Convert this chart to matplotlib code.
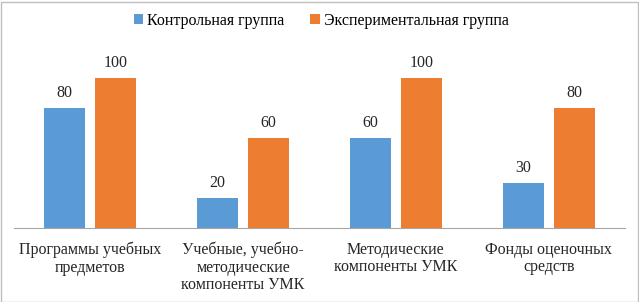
import matplotlib.pyplot as plt
import numpy as np
from matplotlib.patches import Rectangle

# Data
categories = ['Программы учебных\nпредметов',
              'Учебные, учебно-\nметодические\nкомпоненты УМК',
              'Методические\nкомпоненты УМК',
              'Фонды оценочных\nсредств']
control = [80, 20, 60, 30]
experimental = [100, 60, 100, 80]
series_names = ['Контрольная группа', 'Экспериментальная группа']

plt.rcParams['font.family'] = ['Liberation Serif', 'DejaVu Serif']

W, H = 639, 302
fig = plt.figure(figsize=(W / 100, H / 100), dpi=100)
ax = fig.add_axes([14 / W, (H - 228) / H, 611 / W, 180 / H])

x = np.arange(len(categories))
width = 0.268
offset = 0.167
b1 = ax.bar(x - offset, control, width, color='#5b9bd5', label=series_names[0])
b2 = ax.bar(x + offset, experimental, width, color='#ed7d31', label=series_names[1])

for bars in (b1, b2):
    ax.bar_label(bars, padding=5, fontsize=11.5, color='#262626')

ax.set_xlim(-0.5, len(categories) - 0.5)
ax.set_ylim(0, 120)
ax.set_yticks([])
ax.set_xticks(x)
ax.set_xticklabels(categories, fontsize=11.5, color='#262626', linespacing=1.1)
ax.tick_params(axis='x', length=0, pad=10)
for s in ('top', 'right', 'left'):
    ax.spines[s].set_visible(False)
ax.spines['bottom'].set_color('#a6a6a6')

fig.legend(loc='center', bbox_to_anchor=(321 / W, 1 - 21 / H), ncol=2,
           frameon=False, fontsize=11.5, handlelength=0.6, handleheight=0.6,
           handletextpad=0.25, columnspacing=1.6)

# outer border
fig.patches.append(Rectangle((0.5 / W, 0.5 / H), (W - 2) / W, (H - 2) / H,
                             transform=fig.transFigure, fill=False,
                             edgecolor='#bfbfbf', linewidth=1))

fig.savefig('out.png', dpi=100)
